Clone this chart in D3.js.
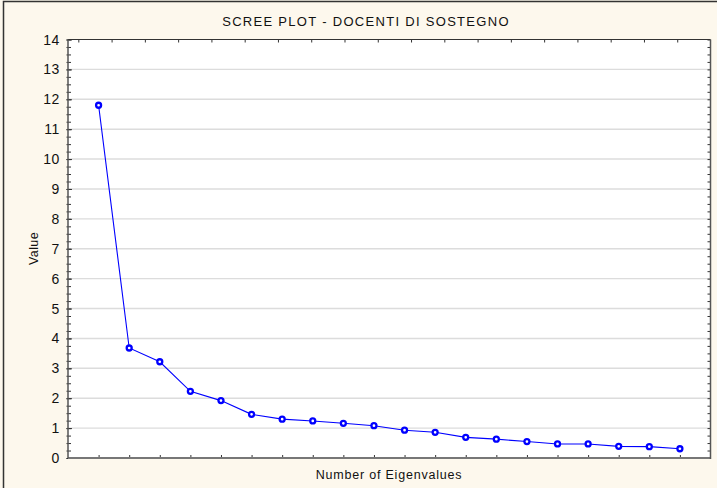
<!DOCTYPE html>
<html>
<head>
<meta charset="utf-8">
<script src="https://cdn.jsdelivr.net/npm/d3@7"></script>
<style>
	body { margin: 0; background: #fdf8ed; }
	svg { display: block; font-family: 'Liberation Sans', Arial, sans-serif; }
</style>
</head>
<body>
<svg id="scree" width="717" height="488"></svg>
<script>
// eigenvalues
const eigenIndex = d3.range(1, 21);
const eigenValues = [11.80, 3.68, 3.22, 2.23, 1.92, 1.46, 1.30, 1.24, 1.16, 1.08,
	0.93, 0.86, 0.69, 0.63, 0.55, 0.47, 0.47, 0.39, 0.38, 0.31];
const yTicks = d3.range(0, 15);
const yMinorTicks = d3.range(0, 14.01, 0.25);
const topTicks = d3.range(0, 19);

const title = 'SCREE PLOT - DOCENTI DI SOSTEGNO';
const xTitle = 'Number of Eigenvalues';
const yTitle = 'Value';

const svg = d3.select('#scree');
const W = 717, H = 488;
const plot = {left: 68, top: 39.5, right: 710.5, bottom: 458};

svg.append('rect')
	.attr('x', 3.5).attr('y', 1.5)
	.attr('width', W + 10).attr('height', H + 10)
	.style('fill', '#fdf8ed')
	.style('stroke', '#333')
	.style('stroke-width', 1.5);

const x = d3.scaleLinear().domain([0, 21]).range([plot.left, plot.right]);
const xTop = d3.scaleLinear().domain([-0.31, 19]).range([plot.left, plot.right]);
const y = d3.scaleLinear().domain([0, 14]).range([plot.bottom, plot.top]);

svg.append('rect')
	.attr('x', plot.left).attr('y', plot.top)
	.attr('width', plot.right - plot.left).attr('height', plot.bottom - plot.top)
	.style('fill', '#fff');

// grid
svg.append('g')
	.selectAll('line')
	.data(yTicks.filter((d) => d > 0 && d < 14))
	.enter().append('line')
	.attr('x1', plot.left).attr('x2', plot.right)
	.attr('y1', (d) => y(d)).attr('y2', (d) => y(d))
	.style('stroke', '#dcdcdc')
	.style('stroke-width', 1.4);

// axes: ticks point inward
const leftAxis = svg.append('g').attr('transform', 'translate(' + plot.left + ',0)');
leftAxis.call(d3.axisRight(y).tickValues(yMinorTicks).tickSize(3).tickFormat(''));
leftAxis.call((g) => g.select('.domain').remove());
leftAxis.append('g').call(d3.axisRight(y).tickValues(yTicks).tickSize(4).tickFormat(''))
	.call((g) => g.select('.domain').remove());
leftAxis.selectAll('.tick line').attr('x1', -1.5).style('stroke', '#333');

svg.append('g')
	.selectAll('text')
	.data(yTicks)
	.enter().append('text')
	.attr('x', plot.left - 8)
	.attr('y', (d) => y(d) + 5)
	.attr('text-anchor', 'end')
	.style('font-size', '14px')
	.style('letter-spacing', '0.6px')
	.style('fill', '#111')
	.text((d) => d);

const rightAxis = svg.append('g').attr('transform', 'translate(' + plot.right + ',0)');
rightAxis.call(d3.axisLeft(y).tickValues(yMinorTicks).tickSize(3).tickFormat(''));
rightAxis.call((g) => g.select('.domain').remove());
rightAxis.selectAll('.tick line').style('stroke', '#333');

const bottomAxis = svg.append('g').attr('transform', 'translate(0,' + plot.bottom + ')');
bottomAxis.call(d3.axisTop(x).tickValues(eigenIndex).tickSize(3).tickFormat(''));
bottomAxis.call((g) => g.select('.domain').remove());
bottomAxis.selectAll('.tick line').style('stroke', '#333');

const topAxis = svg.append('g').attr('transform', 'translate(0,' + plot.top + ')');
topAxis.call(d3.axisBottom(xTop).tickValues(topTicks).tickSize(3).tickFormat(''));
topAxis.call((g) => g.select('.domain').remove());
topAxis.selectAll('.tick line').style('stroke', '#333');

// frame
svg.append('line').attr('x1', plot.left).attr('x2', plot.right)
	.attr('y1', plot.bottom).attr('y2', plot.bottom)
	.style('stroke', '#777').style('stroke-width', 2);
svg.append('line').attr('x1', plot.left).attr('x2', plot.right)
	.attr('y1', plot.top).attr('y2', plot.top)
	.style('stroke', '#333').style('stroke-width', 1.2);
svg.append('line').attr('x1', plot.left).attr('x2', plot.left)
	.attr('y1', plot.top).attr('y2', plot.bottom)
	.style('stroke', '#555').style('stroke-width', 1.5);
svg.append('line').attr('x1', plot.right).attr('x2', plot.right)
	.attr('y1', plot.top).attr('y2', plot.bottom + 1)
	.style('stroke', '#555').style('stroke-width', 1.5);

// series
const points = eigenIndex.map((d, i) => ({n: d, v: eigenValues[i]}));

svg.append('path')
	.datum(points)
	.attr('d', d3.line().x((d) => x(d.n)).y((d) => y(d.v)))
	.style('fill', 'none')
	.style('stroke', '#0000ff')
	.style('stroke-width', 1.1);

svg.append('g')
	.selectAll('circle')
	.data(points)
	.enter().append('circle')
	.attr('cx', (d) => x(d.n))
	.attr('cy', (d) => y(d.v))
	.attr('r', 2.5)
	.style('fill', '#fff')
	.style('stroke', '#0000ff')
	.style('stroke-width', 2.3);

// titles
svg.append('text')
	.attr('x', 366).attr('y', 25.5)
	.attr('text-anchor', 'middle')
	.style('font-size', '13px')
	.style('letter-spacing', '1.3px')
	.style('fill', '#111')
	.text(title);

svg.append('text')
	.attr('x', 389).attr('y', 479)
	.attr('text-anchor', 'middle')
	.style('font-size', '12.5px')
	.style('letter-spacing', '0.8px')
	.style('fill', '#111')
	.text(xTitle);

svg.append('text')
	.attr('transform', 'translate(37.5,248.5) rotate(-90)')
	.attr('text-anchor', 'middle')
	.style('font-size', '12.5px')
	.style('letter-spacing', '0.4px')
	.style('fill', '#111')
	.text(yTitle);
</script>
</body>
</html>
